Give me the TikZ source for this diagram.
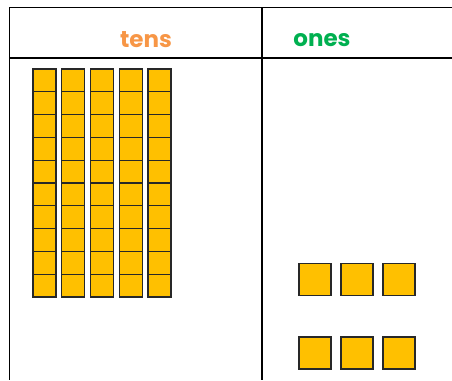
\documentclass[tikz,border=0pt]{standalone}
\usepackage{fontspec}
\setsansfont{Poppins}
\usetikzlibrary{positioning}
\definecolor{tensorange}{RGB}{247,150,70}
\definecolor{onesgreen}{RGB}{0,176,80}
\definecolor{blockgold}{RGB}{255,192,0}
\definecolor{blockedge}{RGB}{40,40,40}

\begin{document}
\begin{tikzpicture}[
        x=1pt, y=-1pt,
        rule/.style={line width=1.8pt, black},
        heading/.style={font=\sffamily\bfseries\fontsize{23}{26}\selectfont, inner sep=0pt},
        tencell/.style={rectangle, draw=blockedge, fill=blockgold, line width=1.3pt, minimum width=23pt, minimum height=22.8pt, inner sep=0pt},
        unit/.style={rectangle, draw=blockedge, fill=blockgold, line width=1.6pt, minimum size=32pt, inner sep=0pt}
    ]
        \useasboundingbox (0,0) rectangle (452,380);

        % Table
        \draw [rule] (452,7.5) -- (9.5,7.5) -- (9.5,380);
        \draw [rule] (9.5,58) -- (452,58);
        \draw [rule] (262,7.5) -- (262,380);

        % Headings
        \node (tens) [heading, text=tensorange] at (146,40) {tens};
        \node (ones) [heading, text=onesgreen] at (322,40) {ones};

        % Tens rods
        \foreach \i in {0,...,4}
            \foreach \j in {0,...,9}
                \node (t\i\j) [tencell] at ({44.5+28.75*\i},{69+22.8*(\j+0.5)}) {};

        % Ones cubes
        \foreach \i in {0,1,2}
        {
            \node (u\i a) [unit] at ({315+42*\i},279.5) {};
            \node (u\i b) [unit] at ({315+42*\i},353) {};
        }
    \end{tikzpicture}
\end{document}
